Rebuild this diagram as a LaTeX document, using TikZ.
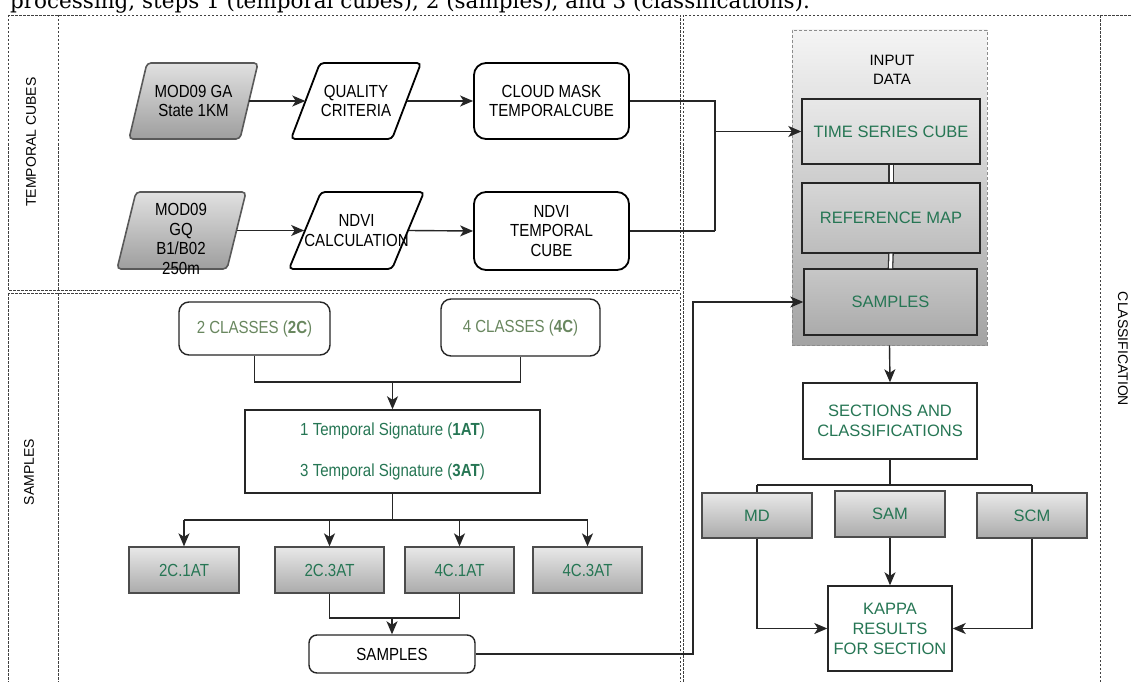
\documentclass[tikz,border=0pt]{standalone}
\usepackage{fontspec}
\setmainfont{Liberation Sans}
\newfontfamily\nar[FakeStretch=0.86]{Liberation Sans}
\newfontfamily\capfont{DejaVu Serif}
\usetikzlibrary{arrows.meta}
\definecolor{tgreen}{RGB}{38,118,84}
\definecolor{ogreen}{RGB}{105,135,95}
\tikzset{
  dframe/.style={draw=black!75, line width=0.9pt, dash pattern=on 2.5pt off 1.5pt},
  conn/.style={draw=black!85, line width=1.4pt},
  arr/.style={conn, -{Stealth[length=13pt,width=11pt,inset=3.5pt]}},
  dbl/.style={draw=black!80, line width=1.3pt, double=white, double distance=3pt},
  lfont/.style={font=\nar\fontsize{17.5}{19.5}\selectfont},
  rfont/.style={font=\fontsize{16.5}{20}\selectfont},
  tbox/.style={inner sep=0pt, align=center},
  bw/.style={tbox, lfont, draw=black, line width=1.8pt, fill=white, rounded corners=12pt},
  wbox/.style={tbox, draw=black!85, line width=1.4pt, fill=white},
  gbox/.style={tbox, draw=black!70, line width=1.3pt, top color=black!9, bottom color=black!33},
  paragrey/.style={draw=black!65, line width=1.6pt, rounded corners=4pt, top color=black!12, bottom color=black!38},
  parawhite/.style={draw=black, line width=1.8pt, rounded corners=4pt, fill=white},
  lbl/.style={font=\fontsize{14}{16}\selectfont, inner sep=0pt},
}
\begin{document}
\begin{tikzpicture}[x=1pt,y=-1pt]
\useasboundingbox (0,0) rectangle (1132,682);
\clip (0,0) rectangle (1132,682);
\fill[white] (0,0) rectangle (1132,682);

% caption (cut at the top edge, as in the reference)
\node[anchor=base west, inner sep=0pt, font=\capfont\fontsize{21.5}{24}\selectfont] (cap) at (10,9)
  {processing, steps 1 (temporal cubes), 2 (samples), and 3 (classifications).};

% frames
\draw[dframe] (8,15) rectangle (680,290);
\draw[dframe] (8,293) rectangle (680,700);
\draw[dframe] (58,15) -- (58,290);
\draw[dframe] (58,293) -- (58,700);
\draw[dframe] (683,15) rectangle (1100,700);
\draw[dframe] (1100,15) -- (1135,15);

\node[lbl, rotate=90] (lt) at (31,142) {TEMPORAL CUBES};
\node[lbl, rotate=90] (ls) at (29,472) {SAMPLES};
\node[lbl, rotate=-90] (lc) at (1123,349) {CLASSIFICATION};

% ---- temporal cubes ----
\draw[paragrey] (147,63) -- (258,63) -- (240,139) -- (129,139) -- cycle;
\node[tbox, lfont, minimum width=111pt, minimum height=76pt] (mga) at (193.5,101) {MOD09 GA\\State 1KM};
\draw[parawhite] (320,63) -- (421,63) -- (392,139) -- (291,139) -- cycle;
\node[tbox, lfont, minimum width=101pt, minimum height=76pt] (qc) at (356,101) {QUALITY\\CRITERIA};
\node[bw, minimum width=155pt, minimum height=76pt] (cm) at (551.5,101) {CLOUD MASK\\TEMPORALCUBE};

\draw[paragrey] (136,192) -- (246,192) -- (227,269) -- (117,269) -- cycle;
\node[tbox, minimum width=110pt, minimum height=77pt] (mgq) at (181.5,230.5) {};
\node[tbox, lfont] (mgqt) at (181,239) {MOD09\\GQ\\B1/B02\\250m};
\draw[parawhite] (321,192) -- (424,192) -- (392,269) -- (289,269) -- cycle;
\node[tbox, lfont, minimum width=103pt, minimum height=77pt] (nd) at (356.5,230.5) {NDVI\\CALCULATION};
\node[bw, minimum width=155pt, minimum height=78pt] (nt) at (551.5,231) {NDVI\\TEMPORAL\\CUBE};

\draw[arr] (mga.east) -- (qc.west);
\draw[arr] (qc.east) -- (cm.west);
\draw[arr] (mgq.east) -- (nd.west);
\draw[arr] (nd.east) -- (nt.west);

% ---- input data ----
\node[tbox, draw=black!45, line width=0.8pt, dash pattern=on 3pt off 2pt, top color=black!4, bottom color=black!36,
      minimum width=195pt, minimum height=315pt] (idc) at (889.5,187.5) {};
\node[tbox, font=\fontsize{15}{19}\selectfont] (idt) at (892,70) {INPUT\\DATA};
\node[tbox, rfont, text=tgreen, draw=black!85, line width=1.4pt, top color=black!9, bottom color=black!16,
      minimum width=178pt, minimum height=65pt] (tsc) at (891,131.5) {TIME SERIES CUBE};
\node[tbox, rfont, text=tgreen, draw=black!85, line width=1.4pt, top color=black!16, bottom color=black!26,
      minimum width=178pt, minimum height=70pt] (ref) at (891,218) {REFERENCE MAP};
\node[tbox, rfont, text=tgreen, draw=black!85, line width=1.4pt, top color=black!22, bottom color=black!33,
      minimum width=173pt, minimum height=66pt] (smp) at (890.5,302) {SAMPLES};
\draw[dbl] (tsc.south) -- (ref.north);
\draw[dbl] (ref.south) -- (smp.north);

\coordinate (j1) at (715,101);
\coordinate (j2) at (715,231);
\draw[conn] (cm.east) -- (j1) -- (j2);
\draw[conn] (nt.east) -- (j2);
\draw[arr] (j1 |- tsc.west) -- (tsc.west);

% ---- classification ----
\node[wbox, rfont, text=tgreen, minimum width=174pt, minimum height=76pt] (sec) at (890,421) {SECTIONS AND\\CLASSIFICATIONS};
\draw[arr] (idc.south) -- (sec.north);
\node[gbox, rfont, text=tgreen, minimum width=110pt, minimum height=45pt] (md) at (757,515.5) {MD};
\node[gbox, rfont, text=tgreen, minimum width=110pt, minimum height=46pt] (sam) at (890,514) {SAM};
\node[gbox, rfont, text=tgreen, minimum width=110pt, minimum height=45pt] (scm) at (1032,515.5) {SCM};
\node[wbox, rfont, text=tgreen, minimum width=124pt, minimum height=85pt] (kap) at (890,628.5) {KAPPA\\RESULTS\\FOR SECTION};
\coordinate (bus) at (890,485);
\draw[conn] (sec.south) -- (bus);
\draw[conn] (md.north |- bus) -- (scm.north |- bus);
\draw[conn] (md.north |- bus) -- (md.north);
\draw[conn] (scm.north |- bus) -- (scm.north);
\draw[arr] (md.south) |- (kap.west);
\draw[arr] (scm.south) |- (kap.east);
\draw[arr] (sam.south) -- (kap.north);

% ---- samples ----
\node[tbox, lfont, text=ogreen, draw=black!85, line width=1.4pt, fill=white, rounded corners=10pt,
      minimum width=151pt, minimum height=53pt] (c2) at (254.5,328.5) {2 CLASSES (\textbf{2C})};
\node[tbox, lfont, text=ogreen, draw=black!85, line width=1.4pt, fill=white, rounded corners=10pt,
      minimum width=159pt, minimum height=57pt] (c4) at (520.5,327.5) {4 CLASSES (\textbf{4C})};
\coordinate (j3) at (392.5,382);
\draw[conn] (c2.south) |- (j3) -| (c4.south);
\node[wbox, lfont, text=tgreen, minimum width=295pt, minimum height=83pt] (ts) at (392.5,451.5)
  {1 Temporal Signature (\textbf{1AT})\\[21pt]3 Temporal Signature (\textbf{3AT})};
\draw[arr] (j3) -- (ts.north);

\node[gbox, lfont, text=tgreen, minimum width=110pt, minimum height=46pt] (b1) at (184,570) {2C.1AT};
\node[gbox, lfont, text=tgreen, minimum width=109pt, minimum height=46pt] (b2) at (329.5,570) {2C.3AT};
\node[gbox, lfont, text=tgreen, minimum width=109pt, minimum height=46pt] (b3) at (459.5,570) {4C.1AT};
\node[gbox, lfont, text=tgreen, minimum width=109pt, minimum height=46pt] (b4) at (587.5,570) {4C.3AT};
\coordinate (j4) at (392.5,520);
\draw[conn] (ts.south) -- (j4);
\draw[conn] (b1.north |- j4) -- (b4.north |- j4);
\draw[arr] (b1.north |- j4) -- (b1.north);
\draw[arr] (b2.north |- j4) -- (b2.north);
\draw[arr] (b3.north |- j4) -- (b3.north);
\draw[arr] (b4.north |- j4) -- (b4.north);

\node[tbox, lfont, draw=black!85, line width=1.4pt, fill=white, rounded corners=8pt,
      minimum width=166pt, minimum height=38pt] (sp) at (392,654) {SAMPLES};
\coordinate (j5) at (392,618);
\draw[conn] (b2.south) |- (j5) -| (b3.south);
\draw[arr] (j5) -- (sp.north);

\coordinate (k1) at (693,654);
\draw[arr] (sp.east) -- (k1) -- (k1 |- smp.west) -- (smp.west);
\end{tikzpicture}
\end{document}
